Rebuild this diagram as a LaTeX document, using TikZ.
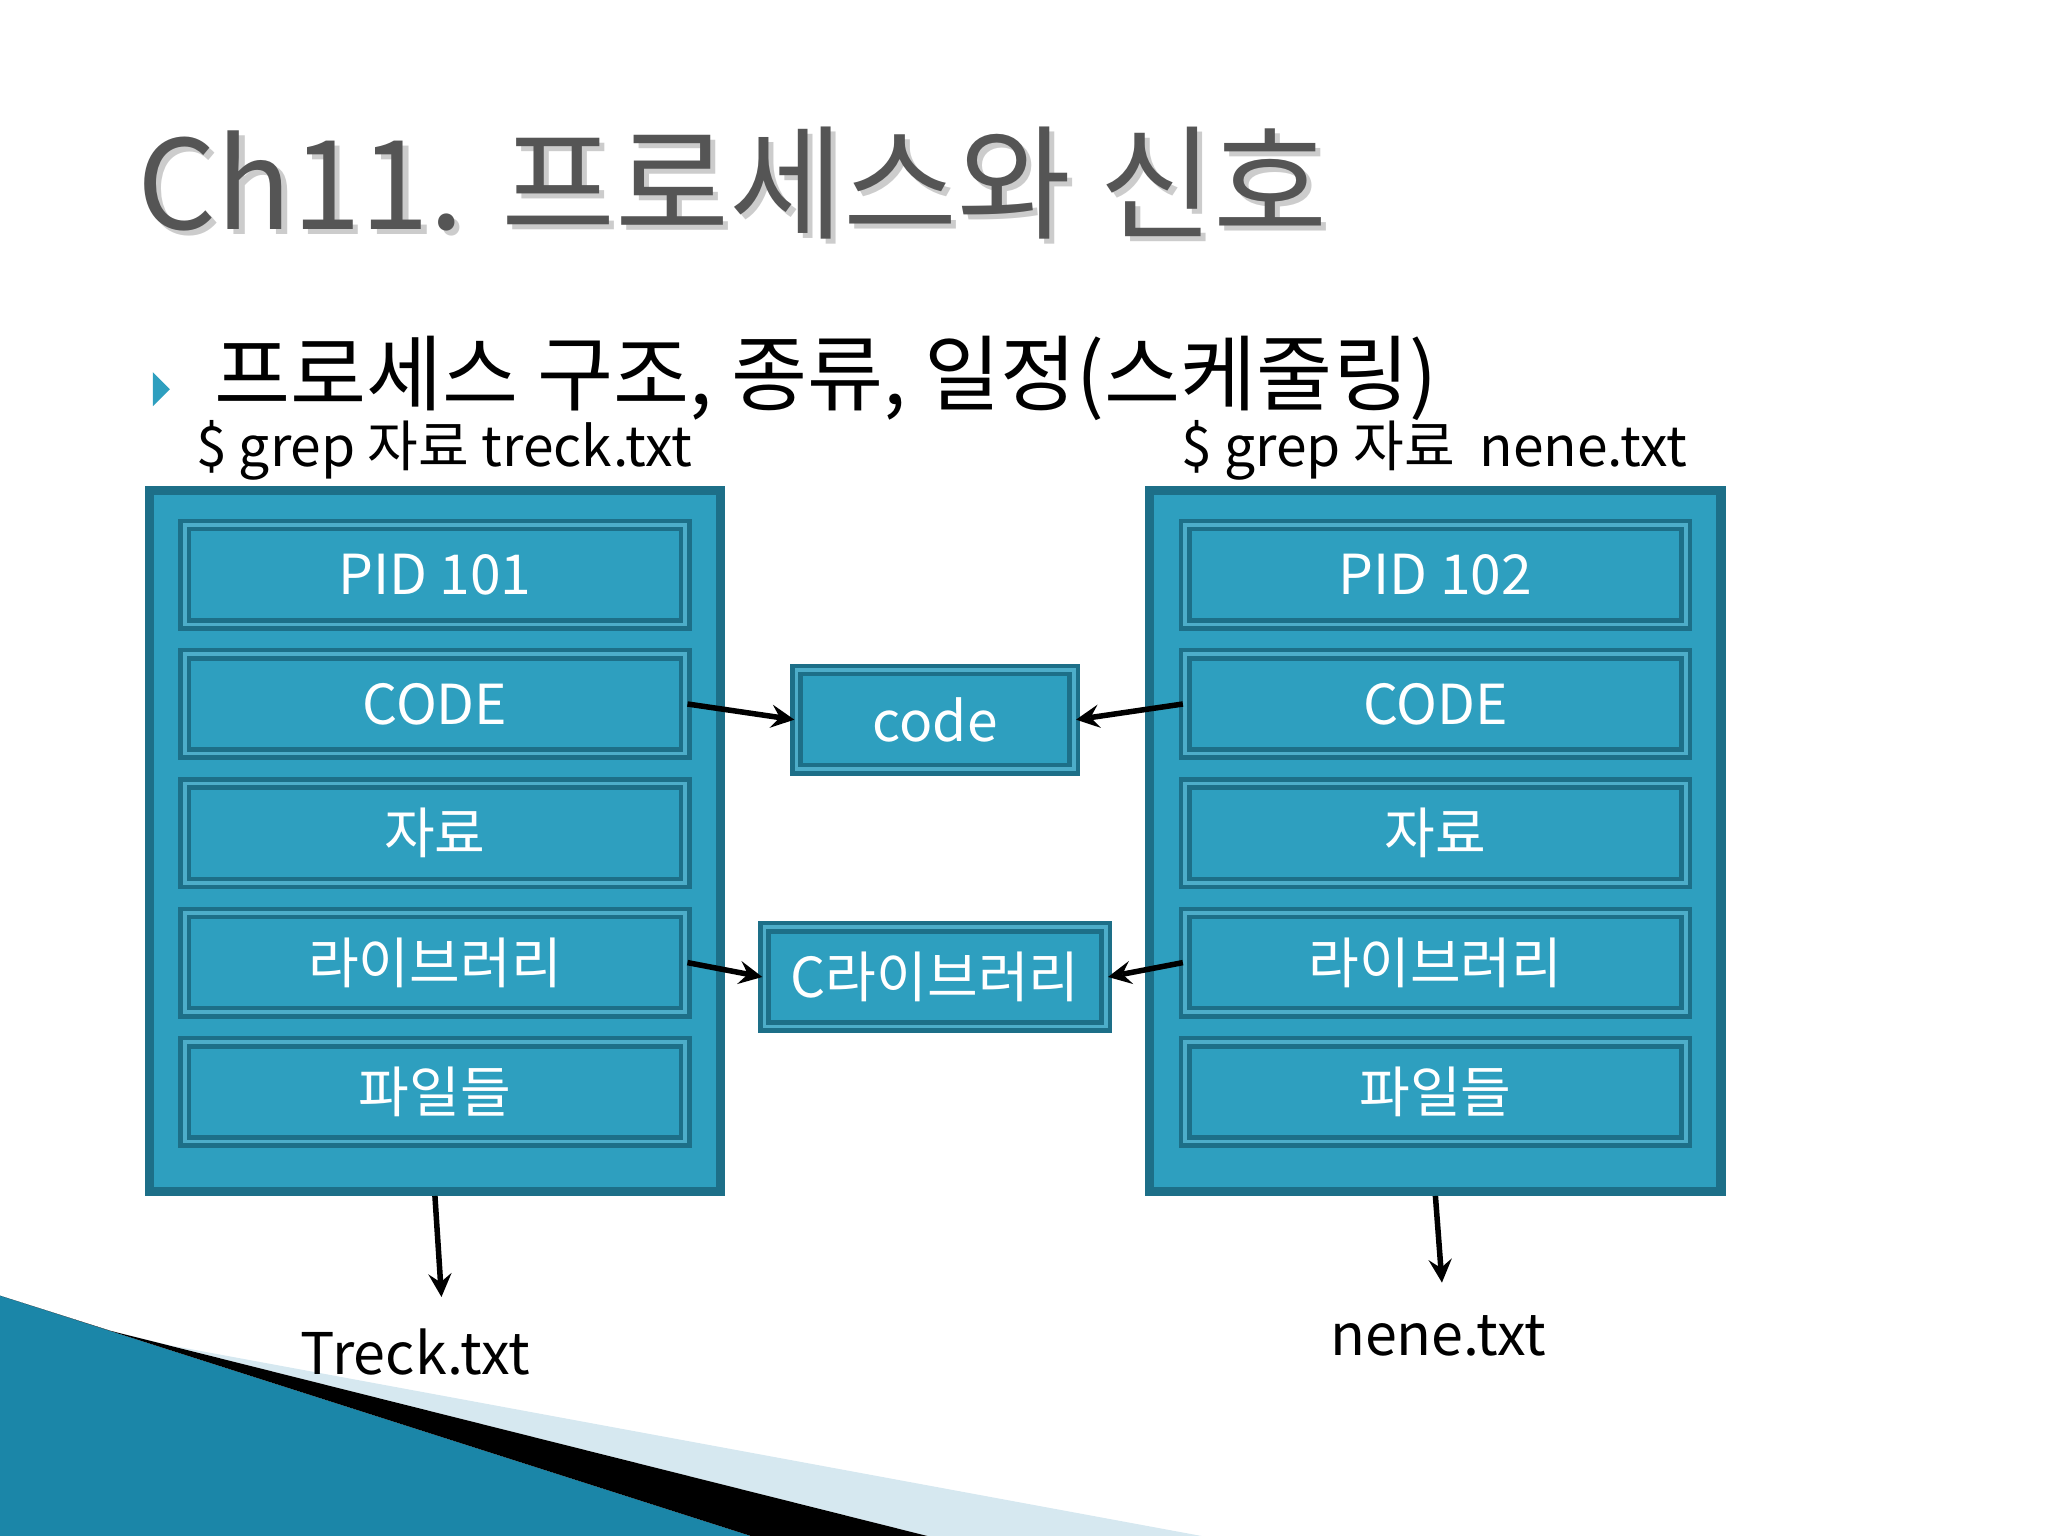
\documentclass[tikz,border=0pt]{standalone}
\usepackage{fontspec}
\setmainfont{Noto Sans CJK KR}
\usetikzlibrary{positioning}
\definecolor{boxfill}{HTML}{2E9FBF}
\definecolor{boxdark}{HTML}{1D6F88}
\definecolor{titlegray}{HTML}{555555}
\definecolor{decoblue}{HTML}{1B86A8}
\definecolor{decolight}{HTML}{D6E8F0}
\tikzset{outerbox/.style={draw=boxdark, line width=2pt, fill=boxfill, minimum width=4.37cm, minimum height=5.36cm, inner sep=0pt}}
\tikzset{layer/.style={draw=boxdark, line width=1pt, double=boxfill!85!white, double distance=0.8pt, fill=boxfill, minimum width=3.83cm, minimum height=0.76cm, inner sep=0pt, text=white, font=\fontsize{12}{14}\selectfont}}
\tikzset{shared/.style={layer, minimum height=0.76cm}}
\tikzset{link/.style={->, >=stealth, line width=1.2pt}}
\begin{document}
\begin{tikzpicture}[x=0.01cm, y=-0.01cm]
\useasboundingbox (0,0) rectangle (1568,1176);

% bottom-left decoration
\fill[decoblue] (0,992) -- (575,1176) -- (0,1176) -- cycle;
\fill[decolight] (85,1019) -- (130,1030) -- (920,1176) -- (710,1176) -- cycle;
\fill[black] (0,992) -- (85,1019) -- (710,1176) -- (575,1176) -- cycle;

% title
\node[anchor=west, text=black!20, font=\fontsize{27}{32}\selectfont] at (97,144) {Ch11. 프로세스와 신호};
\node[anchor=west, text=titlegray, font=\fontsize{27}{32}\selectfont] (title) at (93,140) {Ch11. 프로세스와 신호};

\fill[boxfill] (117,285) -- (130,298) -- (117,311) -- cycle;
\node[anchor=west, font=\fontsize{18}{22}\selectfont] (topic) at (152,290) {프로세스 구조, 종류, 일정(스케줄링)};

\node[font=\fontsize{12}{14}\selectfont] (cmdA) at (340,345) {\$ grep 자료 treck.txt};
\node[font=\fontsize{12}{14}\selectfont] (cmdB) at (1098,345) {\$ grep 자료 \ nene.txt};

% processes
\node[outerbox] (procA) at (333,644) {};
\node[outerbox] (procB) at (1099,644) {};
\node[layer] (pidA) at (333,440) {PID 101};
\node[layer] (codeA) at (333,539) {CODE};
\node[layer] (dataA) at (333,638) {자료};
\node[layer] (libA) at (333,737) {라이브러리};
\node[layer] (fileA) at (333,836) {파일들};
\node[layer] (pidB) at (1099,440) {PID 102};
\node[layer] (codeB) at (1099,539) {CODE};
\node[layer] (dataB) at (1099,638) {자료};
\node[layer] (libB) at (1099,737) {라이브러리};
\node[layer] (fileB) at (1099,836) {파일들};

% shared parts
\node[shared, minimum width=2.12cm] (code) at (716,551) {code};
\node[shared, minimum width=2.61cm] (clib) at (716,748) {C라이브러리};

\draw[link] (codeA.east) -- (code.west);
\draw[link] (codeB.west) -- (code.east);
\draw[link] (libA.east) -- (clib.west);
\draw[link] (libB.west) -- (clib.east);

% output files
\node[font=\fontsize{12.5}{15}\selectfont] (outA) at (318,1035) {Treck.txt};
\node[font=\fontsize{12.5}{15}\selectfont] (outB) at (1101,1023) {nene.txt};
\coordinate (endA) at (338,993);
\coordinate (endB) at (1104,982);
\draw[link] (procA.south) -- (endA);
\draw[link] (procB.south) -- (endB);
\end{tikzpicture}
\end{document}
